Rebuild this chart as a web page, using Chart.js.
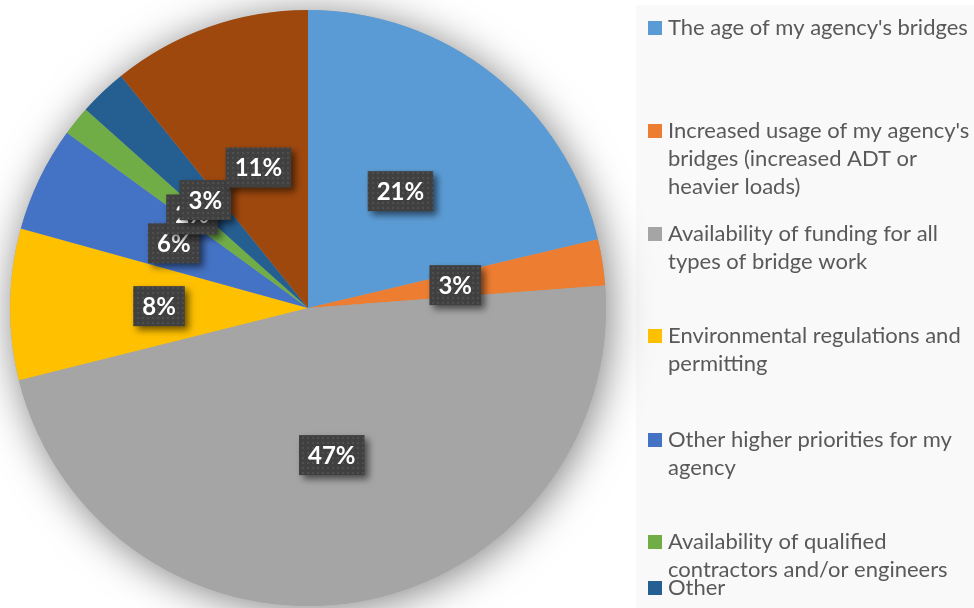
<!DOCTYPE html>
<html>
<head>
<meta charset="utf-8">
<script src="https://cdn.jsdelivr.net/npm/chart.js@4"></script>
<style>
  html, body { margin: 0; padding: 0; background: #fff; }
  canvas { display: block; }
</style>
</head>
<body>
<canvas id="pie_chart" width="974" height="608"></canvas>
<script>
const categories = [
  "The age of my agency's bridges",
  ["Increased usage of my agency's", "bridges (increased ADT or", "heavier loads)"],
  ["Availability of funding for all", "types of bridge work"],
  ["Environmental regulations and", "permitting"],
  ["Other higher priorities for my", "agency"],
  ["Availability of qualified", "contractors and/or engineers"],
  "Other",
  "None of the above",
];
// percent of responses; the boxes show them rounded
const shares = [21.3, 2.5, 47.3, 8.2, 5.7, 1.6, 2.6, 10.8];
const colors = ["#5B9BD5", "#ED7D31", "#A5A5A5", "#FFC000", "#4472C4", "#70AD47", "#255E91", "#9E480E"];

// first-line y of each legend entry (the last one runs off the bottom)
const legendRows = [28, 131, 234, 336, 440, 542, 588, 634];

Chart.defaults.font.family = "Lato";

// dotted fill for the value boxes
const dots = document.createElement("canvas");
dots.width = 5;
dots.height = 5;
const dctx = dots.getContext("2d");
dctx.fillStyle = "#404040";
dctx.fillRect(0, 0, 5, 5);
dctx.fillStyle = "#4f4f4f";
dctx.fillRect(2, 2, 2, 2);

const panel = {
  id: "panel",
  beforeDraw(chart) {
    const c = chart.ctx;
    c.save();
    c.fillStyle = "#F9F9F9";
    c.fillRect(636, 5, chart.width - 636, chart.height - 5);
    c.restore();
  },
};

const pieShadow = {
  id: "pieShadow",
  beforeDatasetsDraw(chart) {
    const arc = chart.getDatasetMeta(0).data[0];
    if (!arc) return;
    const c = chart.ctx;
    c.save();
    c.shadowColor = "rgba(0,0,0,0.5)";
    c.shadowBlur = 40;
    c.shadowOffsetX = 3;
    c.shadowOffsetY = 4;
    c.fillStyle = "#A5A5A5";
    c.beginPath();
    c.arc(arc.x, arc.y, arc.outerRadius, 0, Math.PI * 2);
    c.fill();
    c.restore();
  },
};

const valueBoxes = {
  id: "valueBoxes",
  afterDatasetsDraw(chart) {
    const c = chart.ctx;
    const pattern = c.createPattern(dots, "repeat");
    c.save();
    c.font = "bold 24px Lato";
    c.textAlign = "center";
    c.textBaseline = "middle";
    chart.getDatasetMeta(0).data.forEach((arc, i) => {
      const p = arc.tooltipPosition();
      const text = Math.round(shares[i]) + "%";
      const w = c.measureText(text).width + 18;
      const h = 40;
      c.save();
      c.shadowColor = "rgba(0,0,0,0.55)";
      c.shadowBlur = 7;
      c.shadowOffsetX = 4;
      c.shadowOffsetY = 4;
      c.fillStyle = pattern;
      c.fillRect(p.x - w / 2, p.y - h / 2, w, h);
      c.restore();
      c.fillStyle = "#FFFFFF";
      c.fillText(text, p.x, p.y + 1);
    });
    c.restore();
  },
};

const sideLegend = {
  id: "sideLegend",
  afterDraw(chart) {
    const c = chart.ctx;
    c.save();
    c.font = "22px Lato";
    c.textBaseline = "middle";
    categories.forEach((label, i) => {
      const y = legendRows[i];
      const lines = Array.isArray(label) ? label : [label];
      c.fillStyle = colors[i];
      c.fillRect(648, y - 7, 14, 14);
      c.fillStyle = "#595959";
      lines.forEach((line, k) => c.fillText(line, 668, y + k * 28));
    });
    c.restore();
  },
};

new Chart(document.getElementById("pie_chart"), {
  type: "pie",
  data: {
    labels: categories,
    datasets: [
      {
        data: shares,
        backgroundColor: colors,
        borderWidth: 0,
        hoverOffset: 0,
      },
    ],
  },
  options: {
    responsive: false,
    animation: false,
    layout: {
      padding: { left: 10, right: 368, top: 10, bottom: 2 },
    },
    plugins: {
      legend: { display: false },
      tooltip: { enabled: false },
    },
  },
  plugins: [panel, pieShadow, valueBoxes, sideLegend],
});
</script>
</body>
</html>
